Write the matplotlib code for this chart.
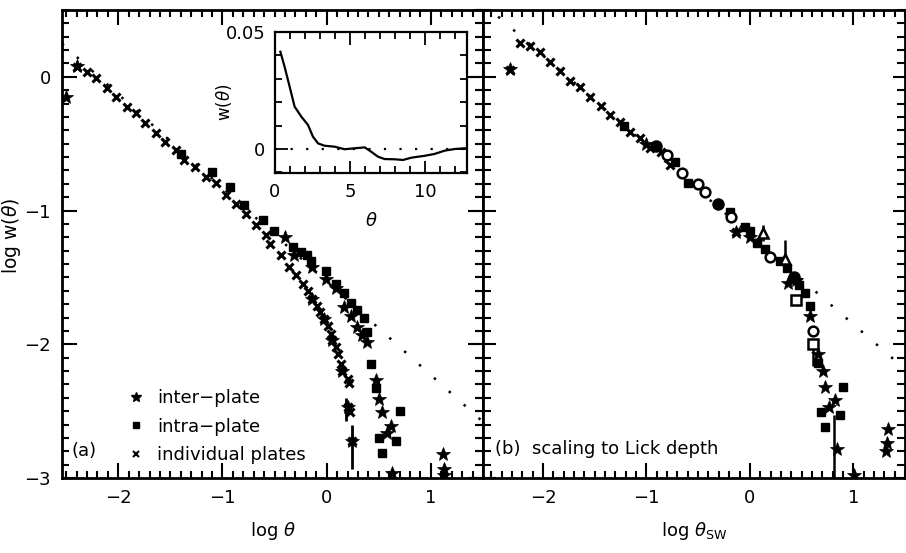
import numpy as np
import matplotlib
matplotlib.use("Agg")
import matplotlib.pyplot as plt
from matplotlib.ticker import MultipleLocator
from matplotlib.lines import Line2D

plt.rcParams['font.family'] = ['DejaVu Sans']
plt.rcParams['mathtext.fontset'] = 'dejavusans'

# ---------------- panel (a) ----------------
ax_ind = [-2.40, -2.30, -2.21, -2.11, -2.02, -1.92, -1.83, -1.74, -1.64, -1.55, -1.45, -1.37,
          -1.26, -1.16, -1.06, -0.97, -0.87, -0.77, -0.68, -0.585, -0.54, -0.435, -0.36, -0.29,
          -0.23, -0.18, -0.14, -0.09, -0.06, -0.03, 0.01, 0.04, 0.055, 0.09, 0.11, 0.135, 0.15,
          0.20, 0.215, 0.20, 0.22, 0.245]
ay_ind = [0.077, 0.04, -0.01, -0.085, -0.148, -0.228, -0.273, -0.348, -0.418, -0.486, -0.549, -0.619,
          -0.674, -0.749, -0.795, -0.88, -0.95, -1.025, -1.11, -1.185, -1.25, -1.335, -1.42, -1.48,
          -1.55, -1.60, -1.66, -1.71, -1.76, -1.81, -1.86, -1.92, -1.97, -2.02, -2.07, -2.15, -2.20,
          -2.26, -2.29, -2.47, -2.51, -2.72]

ax_inter = [-2.50, -2.40, -0.40, -0.31, -0.14, -0.01, 0.087, 0.17, 0.23, 0.295, 0.34, 0.39,
            0.47, 0.50, 0.535, 0.615, 0.58, 0.63, 1.12, 1.13, 1.13,
            -0.14, -0.03, 0.055, 0.15, 0.20, 0.245]
ay_inter = [-0.15, 0.08, -1.195, -1.335, -1.42, -1.51, -1.58, -1.72, -1.785, -1.87, -1.93, -1.985,
            -2.27, -2.41, -2.51, -2.61, -2.66, -2.96, -2.82, -2.93, -2.98,
            -1.66, -1.81, -1.97, -2.20, -2.47, -2.72]

ax_intra = [-1.40, -1.10, -0.925, -0.79, -0.615, -0.51, -0.32, -0.25, -0.185, -0.15, -0.01, 0.087,
            0.17, 0.23, 0.295, 0.36, 0.39, 0.43, 0.47, 0.70, 0.50, 0.665, 0.53]
ay_intra = [-0.578, -0.71, -0.82, -0.96, -1.07, -1.15, -1.27, -1.31, -1.335, -1.375, -1.45, -1.55,
            -1.62, -1.69, -1.74, -1.80, -1.91, -2.15, -2.33, -2.50, -2.70, -2.72, -2.81]

aerr_x = [0.19, 0.245]
aerr_y = [-2.485, -2.765]
aerr_h = [0.085, 0.165]

# power-law reference line (dotted)
a_slope, a_icpt = -0.70, -1.53

# inset: w(theta)
in_theta = [0.36, 0.64, 0.98, 1.31, 1.76, 2.2, 2.53, 2.87, 3.3, 3.97, 4.64, 5.3, 5.98, 6.42,
            6.87, 7.31, 7.98, 8.53, 9.09, 9.98, 10.64, 11.31, 11.98, 12.64, 12.8]
in_w = [0.0416, 0.0352, 0.0266, 0.0181, 0.0138, 0.0103, 0.0053, 0.0024, 0.0014, 0.0010,
        -0.0001, 0.0003, 0.0007, -0.0012, -0.0033, -0.0043, -0.0044, -0.0047, -0.0037,
        -0.0029, -0.0021, -0.0007, 0.0, 0.0003, 0.0002]

# ---------------- panel (b) ----------------
bx_ind = [-2.32, -2.22, -2.13, -2.03, -1.93, -1.84, -1.74, -1.64, -1.55, -1.44, -1.35, -1.26,
          -1.16, -1.06, -0.97, -0.86, -0.77, -0.13]
by_ind = [0.05, 0.25, 0.23, 0.186, 0.108, 0.047, -0.028, -0.077, -0.153, -0.218, -0.288, -0.336,
          -0.41, -0.46, -0.53, -0.56, -0.66, -1.16]

bx_inter = [-2.32, -1.0, -0.13, 0.0, 0.37, 0.45, 0.58, 0.66, 0.71, 0.725, 0.82, 0.77, 0.84, 1.01,
            1.34, 1.33, 1.32]
by_inter = [0.06, -0.50, -1.16, -1.20, -1.54, -1.52, -1.79, -2.07, -2.20, -2.32, -2.42, -2.47,
            -2.78, -2.98, -2.63, -2.74, -2.80]

bx_intra = [-1.22, -0.72, -0.60, -0.19, -0.05, 0.0, 0.065, 0.145, 0.29, 0.355, 0.48, 0.53, 0.58,
            0.66, 0.90, 0.69, 0.87, 0.725]
by_intra = [-0.37, -0.64, -0.79, -1.01, -1.125, -1.15, -1.24, -1.29, -1.375, -1.43, -1.56, -1.62,
            -1.71, -2.14, -2.32, -2.51, -2.53, -2.62]

bx_fcirc = [-0.91, -0.31, 0.43]
by_fcirc = [-0.52, -0.95, -1.50]

bx_ocirc = [-0.80, -0.66, -0.50, -0.43, -0.18, 0.19, 0.61]
by_ocirc = [-0.586, -0.72, -0.80, -0.86, -1.05, -1.35, -1.90]

bx_osq = [0.45, 0.61]
by_osq = [-1.67, -2.00]

bx_tri = [0.13, 0.34]
by_tri = [-1.17, -1.36]

berr_x = [0.13, 0.34, 0.61, 0.81]
berr_y = [-1.17, -1.30, -2.07, -2.80]
berr_h = [0.06, 0.08, 0.09, 0.27]

b_slope, b_icpt = -0.67, -1.18

# ---------------- figure ----------------
fig = plt.figure(figsize=(9.06, 5.53), dpi=100)
axa = fig.add_axes([0.0684, 0.1356, 0.4647, 0.8463])
axb = fig.add_axes([0.5331, 0.1356, 0.4658, 0.8463])
axi = fig.add_axes([0.3035, 0.687, 0.212, 0.255])

fs = 13
dot_ls = (0, (1, 7))


def style_main(ax, xlim, left_labels):
    ax.set_xlim(*xlim)
    ax.set_ylim(-3, 0.5)
    for s in ax.spines.values():
        s.set_linewidth(2)
    ax.xaxis.set_major_locator(MultipleLocator(1))
    ax.xaxis.set_minor_locator(MultipleLocator(0.1))
    ax.yaxis.set_major_locator(MultipleLocator(1))
    ax.yaxis.set_minor_locator(MultipleLocator(0.1))
    ax.tick_params(which='both', direction='in', top=True, right=True, width=1.5, labelsize=fs,
                   pad=8)
    ax.tick_params(which='major', length=11)
    ax.tick_params(which='minor', length=5)
    if not left_labels:
        ax.tick_params(labelleft=False)


style_main(axa, (-2.54, 1.5), True)
style_main(axb, (-2.58, 1.5), False)
axb.tick_params(which='both', axis='y', direction='inout', left=True)
axb.tick_params(which='major', axis='y', length=18)
axb.tick_params(which='minor', axis='y', length=12)

# panel (a)
xs = np.array(axa.get_xlim())
axa.plot(xs, a_icpt + a_slope * xs, color='k', ls=dot_ls, lw=1.8)
axa.errorbar(aerr_x, aerr_y, yerr=aerr_h, fmt='none', ecolor='k', elinewidth=2, capsize=0)
axa.plot(ax_ind, ay_ind, 'x', color='k', ms=6, mew=2.2)
axa.plot(ax_inter, ay_inter, '*', color='k', ms=10, mew=0.5)
axa.plot(ax_intra, ay_intra, 's', color='k', ms=5.5)

handles = [Line2D([], [], ls='none', marker='*', color='k', ms=7),
           Line2D([], [], ls='none', marker='s', color='k', ms=4),
           Line2D([], [], ls='none', marker='x', color='k', ms=4.5, mew=1.5)]
axa.legend(handles, ['inter\u2212plate', 'intra\u2212plate', 'individual plates'],
           loc='lower left', bbox_to_anchor=(0.115, -0.005), frameon=False, fontsize=fs,
           handlelength=1.0, handletextpad=0.7, labelspacing=0.58)
axa.text(0.022, 0.058, '(a)', transform=axa.transAxes, fontsize=fs, va='center')
axa.set_xlabel(r'log $\theta$', fontsize=fs, labelpad=9)
axa.set_ylabel(r'log w($\theta$)', fontsize=fs + 0.5)
axa.yaxis.set_label_coords(-0.093, 0.517)

# inset
axi.plot(in_theta, in_w, color='k', lw=1.6)
axi.axhline(0, color='k', ls=(0, (1, 6)), lw=1.6)
axi.set_xlim(0, 12.8)
axi.set_ylim(-0.0103, 0.05)
for s in axi.spines.values():
    s.set_linewidth(1.6)
axi.xaxis.set_major_locator(MultipleLocator(5))
axi.xaxis.set_minor_locator(MultipleLocator(1))
axi.set_yticks([0, 0.05])
axi.set_yticklabels(['0', '0.05'])
axi.yaxis.set_minor_locator(MultipleLocator(0.01))
axi.tick_params(which='both', direction='in', top=True, right=True, width=1.3, labelsize=fs, pad=7)
axi.tick_params(which='major', length=9)
axi.tick_params(which='minor', length=5)
axi.set_xlabel(r'$\theta$', fontsize=fs, labelpad=8)
axi.set_ylabel(r'w($\theta$)', fontsize=fs - 1, labelpad=-6)

# panel (b)
xs = np.array(axb.get_xlim())
axb.plot(xs, b_icpt + b_slope * xs, color='k', ls=dot_ls, lw=1.8)
axb.errorbar(berr_x, berr_y, yerr=berr_h, fmt='none', ecolor='k', elinewidth=1.8, capsize=0)
axb.plot(bx_ind, by_ind, 'x', color='k', ms=6, mew=2.2)
axb.plot(bx_inter, by_inter, '*', color='k', ms=10, mew=0.5)
axb.plot(bx_intra, by_intra, 's', color='k', ms=5.5)
axb.plot(bx_fcirc, by_fcirc, 'o', color='k', ms=8)
axb.plot(bx_ocirc, by_ocirc, 'o', mfc='white', mec='k', mew=1.8, ms=7)
axb.plot(bx_osq, by_osq, 's', mfc='white', mec='k', mew=1.8, ms=7)
axb.plot(bx_tri, by_tri, '^', mfc='white', mec='k', mew=1.8, ms=7)
axb.text(0.028, 0.062, '(b)  scaling to Lick depth', transform=axb.transAxes, fontsize=fs,
         va='center')
axb.set_xlabel(r'log $\theta_{\rm SW}$', fontsize=fs, labelpad=9)

fig.savefig('out.png', dpi=100)
